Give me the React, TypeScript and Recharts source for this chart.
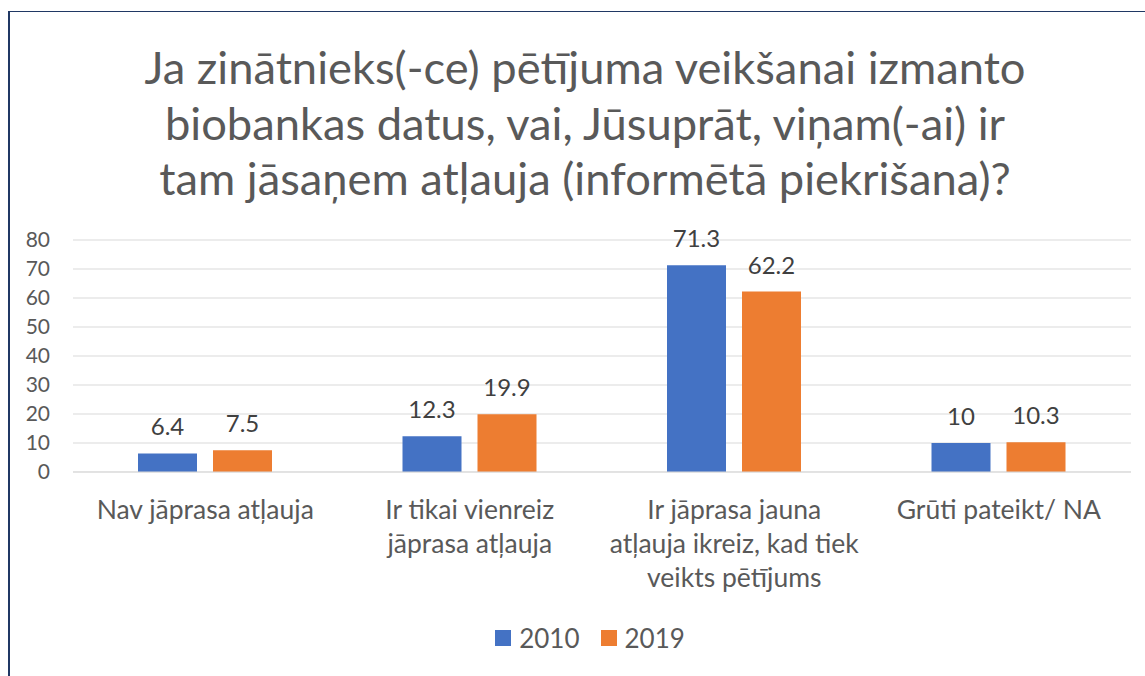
import React from "react";
import { BarChart, Bar, XAxis, YAxis, CartesianGrid, Legend, LabelList } from "recharts";

const titleLines = [
  "Ja zinātnieks(-ce) pētījuma veikšanai izmanto",
  "biobankas datus, vai, Jūsuprāt, viņam(-ai) ir",
  "tam jāsaņem atļauja (informētā piekrišana)?",
];
const categoryLines = [
  ["Nav jāprasa atļauja"],
  ["Ir tikai vienreiz", "jāprasa atļauja"],
  ["Ir jāprasa jauna", "atļauja ikreiz, kad tiek", "veikts pētījums"],
  ["Grūti pateikt/ NA"],
];
const categories = categoryLines.map((l) => l.join(" "));
const values2010 = [6.4, 12.3, 71.3, 10];
const values2019 = [7.5, 19.9, 62.2, 10.3];
const yTicks = [0, 10, 20, 30, 40, 50, 60, 70, 80];
const seriesNames = ["2010", "2019"];
const colors = ["#4472C4", "#ED7D31"];

const data = categories.map((c, i) => ({ name: c, s2010: values2010[i], s2019: values2019[i] }));

const FONT = "Lato, 'Noto Sans', sans-serif";
const GREY = "#595959";

const CategoryTick = (props: any) => {
  const { x, y, payload } = props;
  const lines = categoryLines[categories.indexOf(payload.value)] || [payload.value];
  return (
    <text x={x} y={y + 47} textAnchor="middle" fill={GREY} fontSize={26.5} fontFamily={FONT}>
      {lines.map((l: string, i: number) => (
        <tspan key={i} x={x} dy={i === 0 ? 0 : 34}>
          {l}
        </tspan>
      ))}
    </text>
  );
};

const LegendContent = () => (
  <div style={{ display: "flex", justifyContent: "center", alignItems: "center", fontFamily: FONT, fontSize: 26, color: GREY, height: 32 }}>
    {seriesNames.map((s, i) => (
      <div key={s} style={{ display: "flex", alignItems: "center", marginRight: i === 0 ? 21 : 0 }}>
        <div style={{ width: 16, height: 16, background: colors[i], marginRight: 8 }} />
        <span>{s}</span>
      </div>
    ))}
  </div>
);

export default function App() {
  return (
    <div style={{ position: "absolute", left: 0, top: 0, width: 1145, height: 676, overflow: "hidden", background: "#fff" }}>
      <div style={{ position: "absolute", left: 8, top: 11, width: 1300, height: 800, borderLeft: "2px solid #203864", borderTop: "1px solid #203864" }} />
      <svg style={{ position: "absolute", left: 0, top: 0 }} width={1145} height={220}>
        {titleLines.map((t, i) => (
          <text key={i} x={585} y={84 + i * 55.5} textAnchor="middle" fill={GREY} fontSize={45.3} fontFamily={FONT}>
            {t}
          </text>
        ))}
      </svg>
      <div style={{ position: "absolute", left: 0, top: 0 }}>
        <BarChart width={1145} height={676} data={data} margin={{ top: 240, right: 14, left: 0, bottom: 22 }} barGap={16} barSize={59}>
          <CartesianGrid vertical={false} stroke="#D9D9D9" strokeWidth={1} />
          <XAxis dataKey="name" height={150} tick={<CategoryTick />} tickLine={false} axisLine={{ stroke: "#D9D9D9" }} tickSize={0} tickMargin={0} interval={0} />
          <YAxis width={73} domain={[0, 80]} ticks={yTicks} interval={0} tickLine={false} axisLine={false} tickSize={0} tickMargin={23} tick={{ fill: GREY, fontSize: 21, fontFamily: FONT }} />
          <Legend verticalAlign="bottom" content={<LegendContent />} wrapperStyle={{ left: 0, width: 1180 }} />
          <Bar dataKey="s2010" name={seriesNames[0]} fill={colors[0]} isAnimationActive={false}>
            <LabelList dataKey="s2010" position="top" offset={18} fill="#404040" fontSize={24} fontFamily={FONT} />
          </Bar>
          <Bar dataKey="s2019" name={seriesNames[1]} fill={colors[1]} isAnimationActive={false}>
            <LabelList dataKey="s2019" position="top" offset={18} fill="#404040" fontSize={24} fontFamily={FONT} />
          </Bar>
        </BarChart>
      </div>
    </div>
  );
}
